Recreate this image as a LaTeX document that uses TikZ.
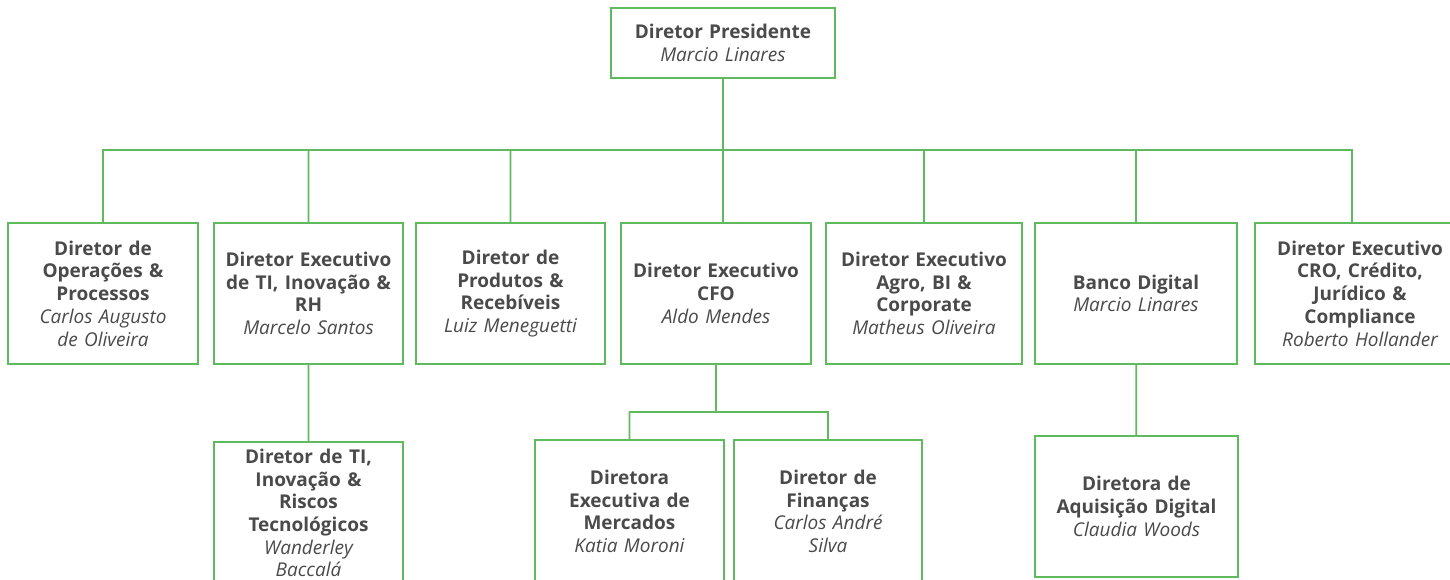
\documentclass[tikz,border=0pt]{standalone}
\usepackage{fontspec}
\setmainfont{Open Sans}
\usetikzlibrary{positioning}
\definecolor{linegreen}{RGB}{94,186,92}
\definecolor{textgrey}{RGB}{74,74,74}

\begin{document}
\begin{tikzpicture}[
x=1pt, y=-1pt,
cargo/.style={draw=linegreen, line width=1.8pt, fill=white, text=textgrey, align=center,
  inner sep=0pt, font=\fontsize{19}{22.7}\selectfont},
link/.style={draw=linegreen, line width=1.8pt},
]
\useasboundingbox (0,0) rectangle (1450,580);

% top
\node[cargo, minimum width=224pt, minimum height=70pt, text width=220pt] (pres) at (723,43)
  {{\bfseries Diretor Presidente}\\{\itshape Marcio Linares}};

% first level
\node[cargo, minimum width=190pt, minimum height=141pt, text width=186pt] (ops) at (103,293.5)
  {{\bfseries Diretor de\\Operações \&\\Processos}\\{\itshape Carlos Augusto\\de Oliveira}};
\node[cargo, minimum width=189pt, minimum height=141pt, text width=185pt] (ti) at (308.5,293.5)
  {{\bfseries Diretor Executivo\\de TI, Inovação \&\\RH}\\{\itshape Marcelo Santos}};
\node[cargo, minimum width=189pt, minimum height=141pt, text width=185pt] (prod) at (510.5,293.5)
  {{\bfseries Diretor de\\Produtos \&\\Recebíveis}\\{\itshape Luiz Meneguetti}};
\node[cargo, minimum width=190pt, minimum height=141pt, text width=186pt] (cfo) at (716,293.5)
  {{\bfseries Diretor Executivo\\CFO}\\{\itshape Aldo Mendes}};
\node[cargo, minimum width=196pt, minimum height=141pt, text width=192pt] (agro) at (924,293.5)
  {{\bfseries Diretor Executivo\\Agro, BI \&\\Corporate}\\{\itshape Matheus Oliveira}};
\node[cargo, minimum width=202pt, minimum height=141pt, text width=198pt] (banco) at (1136,293.5)
  {{\bfseries Banco Digital}\\{\itshape Marcio Linares}};
\node[cargo, minimum width=210pt, minimum height=141pt, text width=206pt] (cro) at (1360,293.5)
  {{\bfseries Diretor Executivo\\CRO, Crédito,\\Jurídico \&\\Compliance}\\{\itshape Roberto Hollander}};

% second level
\node[cargo, minimum width=189pt, minimum height=142pt, text width=185pt] (tirisk) at (308.5,513)
  {{\bfseries Diretor de TI,\\Inovação \&\\Riscos\\Tecnológicos}\\{\itshape Wanderley\\Baccalá}};
\node[cargo, minimum width=189pt, minimum height=143pt, text width=185pt] (merc) at (629.5,511.5)
  {{\bfseries Diretora\\Executiva de\\Mercados}\\{\itshape Katia Moroni}};
\node[cargo, minimum width=188pt, minimum height=143pt, text width=184pt] (fin) at (828,511.5)
  {{\bfseries Diretor de\\Finanças}\\{\itshape Carlos André\\Silva}};
\node[cargo, minimum width=203pt, minimum height=141pt, text width=199pt] (aquis) at (1136.5,506.5)
  {{\bfseries Diretora de\\Aquisição Digital}\\{\itshape Claudia Woods}};

\coordinate (bus) at (723,150);
\coordinate (cfobus) at (717,412);
\coordinate (crotop) at ([xshift=-8pt]cro.north);

\path[link]
(pres.south) -- (bus)
(ops.north) |- (bus) -| (crotop)
(ti.north) -- (ti.north |- bus)
(prod.north) -- (prod.north |- bus)
(bus) -- (bus |- cfo.north)
(agro.north) -- (agro.north |- bus)
(banco.north) -- (banco.north |- bus)
(ti) -- (tirisk)
(cfo.south) -- (cfo.south |- cfobus)
(merc.north) |- (cfobus) -| (fin.north)
(banco) -- (aquis)
;
\end{tikzpicture}
\end{document}
